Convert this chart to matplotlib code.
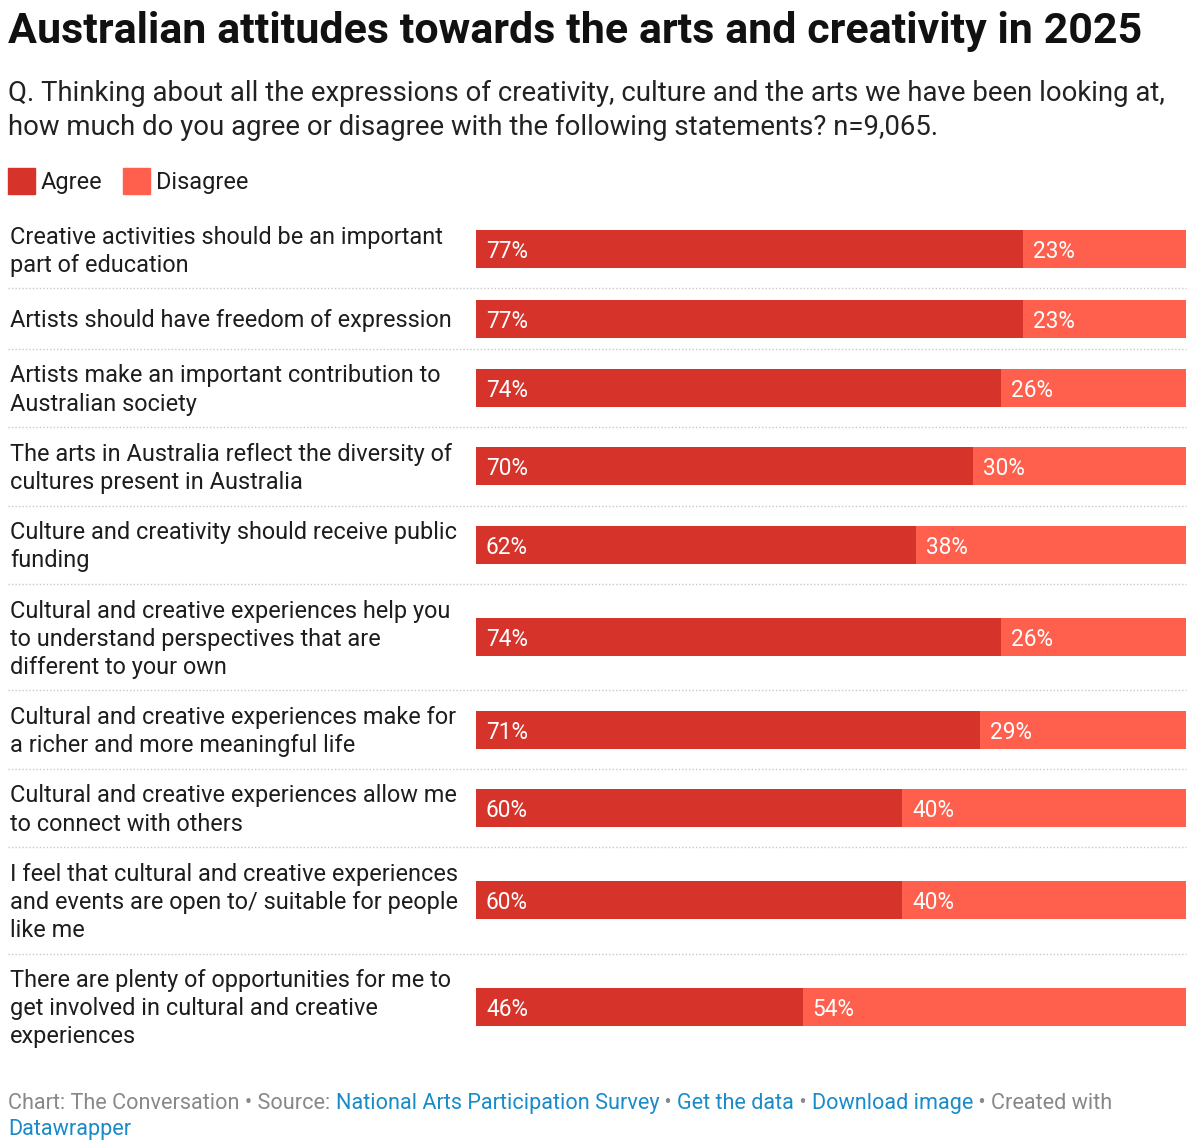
import matplotlib.pyplot as plt
from matplotlib import transforms

plt.rcParams['font.family'] = ['Roboto', 'DejaVu Sans']

statements = [
    'Creative activities should be an important\npart of education',
    'Artists should have freedom of expression',
    'Artists make an important contribution to\nAustralian society',
    'The arts in Australia reflect the diversity of\ncultures present in Australia',
    'Culture and creativity should receive public\nfunding',
    'Cultural and creative experiences help you\nto understand perspectives that are\ndifferent to your own',
    'Cultural and creative experiences make for\na richer and more meaningful life',
    'Cultural and creative experiences allow me\nto connect with others',
    'I feel that cultural and creative experiences\nand events are open to/ suitable for people\nlike me',
    'There are plenty of opportunities for me to\nget involved in cultural and creative\nexperiences',
]
agree = [77, 77, 74, 70, 62, 74, 71, 60, 60, 46]
disagree = [23, 23, 26, 30, 38, 26, 29, 40, 40, 54]
series_names = ['Agree', 'Disagree']

AGREE_COL = '#d6342a'
DISAGREE_COL = '#ff604d'
TEXT_COL = '#1d1d1d'
GREY = '#888888'
LINK = '#1a8bc9'

W, H = 1200, 1146
fig = plt.figure(figsize=(W / 100, H / 100), dpi=100)


def fx(px):
    return px / W


def fy(py):
    return 1 - py / H


# title + question
fig.text(fx(8), fy(32), 'Australian attitudes towards the arts and creativity in 2025',
         fontsize=31, fontweight='bold', color='#111111', va='center', ha='left')
fig.text(fx(8), fy(110),
         'Q. Thinking about all the expressions of creativity, culture and the arts we have been looking at,\n'
         'how much do you agree or disagree with the following statements? n=9,065.',
         fontsize=19.8, color='#222222', va='center', ha='left', linespacing=1.33)

# legend
x = 8
for name, col in zip(series_names, [AGREE_COL, DISAGREE_COL]):
    fig.add_artist(plt.Rectangle((fx(x), fy(194)), 27 / W, 26 / H, color=col,
                                 transform=fig.transFigure))
    t = fig.text(fx(x + 33), fy(183), name, fontsize=16.9, color=TEXT_COL,
                 va='center', ha='left')
    fig.canvas.draw()
    bb = t.get_window_extent()
    x = bb.x1 + 20

# rows: height depends on the number of label lines
line_h = 28
heights = [max((s.count('\n') + 1) * line_h, 38) + 22.4 for s in statements]
top = 210
total = sum(heights)
ax = fig.add_axes([fx(476), fy(top + total), (1186 - 476) / W, total / H])
ax.set_xlim(0, 100)
ax.set_ylim(total, 0)
ax.axis('off')

centers = []
y = 0
for h in heights:
    centers.append(y + h / 2)
    y += h

ax.barh(centers, agree, height=38, color=AGREE_COL)
ax.barh(centers, disagree, left=agree, height=38, color=DISAGREE_COL)

lab_tr = transforms.blended_transform_factory(fig.transFigure, ax.transData)
for i, c in enumerate(centers):
    ax.text(1.4, c + 2.5, f'{agree[i]}%', color='white', fontsize=16.3,
            va='center', ha='left')
    ax.text(agree[i] + 1.4, c + 2.5, f'{disagree[i]}%', color='white', fontsize=16.3,
            va='center', ha='left')
    fig.text(fx(10), c + 2, statements[i], transform=lab_tr, fontsize=16.9, color=TEXT_COL,
             va='center', ha='left', linespacing=1.28)

# dotted separators between rows
edge = 0
for h in heights[:-1]:
    edge += h
    ax.axhline(edge, xmin=(8 - 476) / 710, xmax=1, color='#c8c8c8', lw=1,
               linestyle=(0, (1, 1.5)), clip_on=False)

# footer
pieces = [('Chart: The Conversation • Source: ', GREY),
          ('National Arts Participation Survey', LINK),
          (' • ', GREY), ('Get the data', LINK), (' • ', GREY),
          ('Download image', LINK), (' • Created with', GREY)]
x = 8
fig.canvas.draw()
for txt, col in pieces:
    t = fig.text(fx(x), fy(1109), txt, fontsize=15.6, color=col, va='baseline', ha='left')
    fig.canvas.draw()
    x = t.get_window_extent().x1
fig.text(fx(8), fy(1135), 'Datawrapper', fontsize=15.6, color=LINK, va='baseline', ha='left')

fig.savefig('out.png', dpi=100, facecolor='white')
